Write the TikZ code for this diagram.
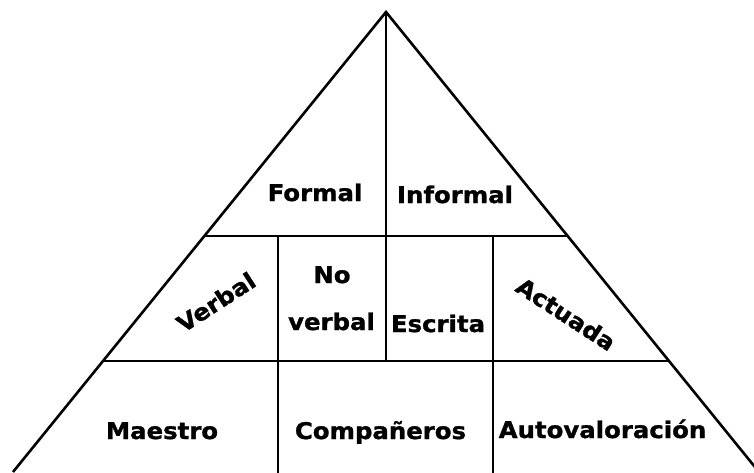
\documentclass[tikz,border=0pt]{standalone}
\usepackage{fontspec}
\newfontfamily\lbl{DejaVu Sans Bold}[FakeStretch=1.06,FakeBold=1.2]
\begin{document}
\begin{tikzpicture}[x=1pt,y=-1pt,
  edge/.style={line width=2.6pt,black},
  lab/.style={font=\lbl\fontsize{23}{28}\selectfont,inner sep=0pt,anchor=base,text=black}]
\useasboundingbox (0,0) rectangle (754,472);
\clip (0,0) rectangle (754,472);
% key points
\coordinate (A) at (386,12);
\coordinate (BL) at (13,472);
\coordinate (BR) at (759,472);
\coordinate (L1) at (204,236);
\coordinate (R1) at (567,236);
\coordinate (L2) at (103,361);
\coordinate (R2) at (669,361);
\coordinate (C2) at (386,361);
\coordinate (V1t) at (278,236);
\coordinate (V1b) at (278,480);
\coordinate (V2t) at (493,236);
\coordinate (V2b) at (493,480);
% lines
\draw[edge,line join=miter] (BL) -- (A) -- (BR);
\draw[edge] (L1) -- (R1);
\draw[edge] (L2) -- (R2);
\draw[edge] (A) -- (C2);
\draw[edge] (V1t) -- (V1b);
\draw[edge] (V2t) -- (V2b);
% labels
\node[lab] (formal) at (315,201) {Formal};
\node[lab] (informal) at (455,203) {Informal};
\node[lab] (no) at (332,283) {No};
\node[lab] (nverbal) at (331.5,330) {verbal};
\node[lab] (escrita) at (438,332) {Escrita};
\node[lab,anchor=center,rotate=33] (verbal) at (216,302) {Verbal};
\node[lab,anchor=center,rotate=-33] (actuada) at (566,314) {Actuada};
\node[lab] (maestro) at (162,439) {Maestro};
\node[lab] (comp) at (380.5,439) {Compañeros};
\node[lab] (auto) at (602.5,438) {Autovaloración};
\end{tikzpicture}
\end{document}
